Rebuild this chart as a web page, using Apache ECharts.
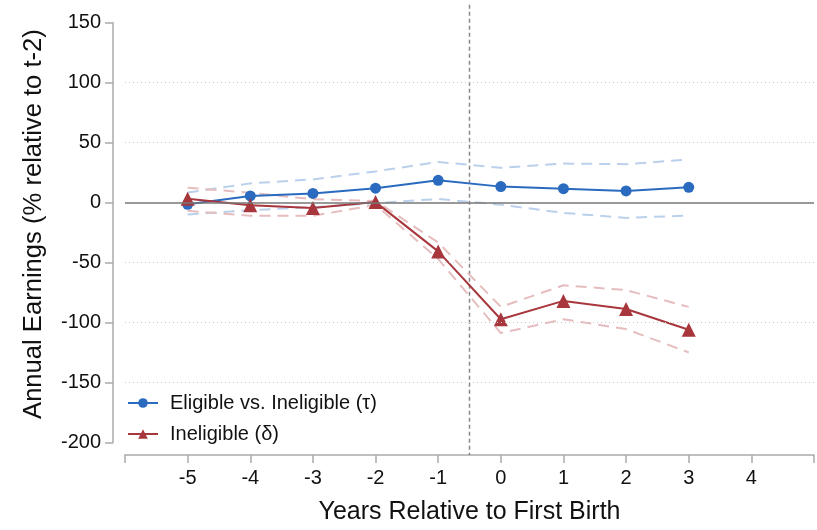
<!DOCTYPE html>
<html>
<head>
<meta charset="utf-8">
<script src="https://cdn.jsdelivr.net/npm/echarts@6/dist/echarts.min.js"></script>
<style>
html,body{margin:0;padding:0;background:#fff;}
#chart{width:817px;height:530px;}
</style>
</head>
<body>
<div id="chart"></div>
<script>
const years = [-5, -4, -3, -2, -1, 0, 1, 2, 3];
const tau = [-1.4, 5.5, 7.6, 12, 18.6, 13.3, 11.6, 9.7, 12.7];
const tauHi = [8.4, 16, 19.3, 26, 33.9, 29, 32.5, 32, 36];
const tauLo = [-10, -6.3, -3.8, -0.5, 3, -1.8, -8.6, -12.8, -10.8];
const delta = [3.1, -2.3, -4.5, 0.4, -40.7, -97.3, -82, -88.7, -106];
const deltaHi = [12.4, 8.2, 2.7, 1.4, -33.3, -87, -69, -73, -87];
const deltaLo = [-6.9, -11, -11, -2, -47, -108.8, -97.3, -105.5, -125];
const yTicks = [150, 100, 50, 0, -50, -100, -150, -200];
const gridLines = [100, 50, -50, -100, -150];
const eventLine = -0.5;
const xLabels = ['-5', '-4', '-3', '-2', '-1', '0', '1', '2', '3', '4'];
const nameTau = 'Eligible vs. Ineligible (\u03C4)';
const nameDelta = 'Ineligible (\u03B4)';

const FONT = '"Liberation Sans Narrow", "Arial Narrow", "Liberation Sans", Arial, sans-serif';
const BLUE = '#2a6bbf', RED = '#a8373d';
const LBLUE = '#bad0eb', LRED = '#e6bdbf';

const pts = arr => years.map((x, i) => [x, arr[i]]);

const chart = echarts.init(document.getElementById('chart'), null, { width: 817, height: 530 });
const option = {
  animation: false,
  backgroundColor: '#fff',
  textStyle: { fontFamily: FONT },
  grid: { left: 125, width: 692, top: 22.7, height: 424, containLabel: false },
  xAxis: {
    type: 'value', min: -6, max: 5, interval: 1, offset: 12.6,
    name: 'Years Relative to First Birth', nameLocation: 'middle', nameGap: 45,
    nameTextStyle: { fontSize: 25, color: '#111', fontFamily: FONT },
    axisLine: { show: true, onZero: false, lineStyle: { color: '#aaa', width: 1.5 } },
    axisTick: { show: true, length: 8, lineStyle: { color: '#aaa', width: 1.5 } },
    axisLabel: { fontSize: 20, color: '#111', margin: 13, fontFamily: FONT,
      formatter: v => xLabels.indexOf(String(v)) >= 0 ? String(v) : '' },
    splitLine: { show: false }
  },
  yAxis: {
    type: 'value', min: -200, max: 150, interval: 50, offset: 12,
    name: 'Annual Earnings (% relative to t-2)', nameLocation: 'middle', nameGap: 66,
    nameTextStyle: { fontSize: 25.6, color: '#111', fontFamily: FONT, padding: [0, 0, 0, 17] },
    axisLine: { show: true, onZero: false, lineStyle: { color: '#aaa', width: 1.5 } },
    axisTick: { show: true, length: 8, lineStyle: { color: '#aaa', width: 1.5 } },
    axisLabel: { fontSize: 20, color: '#111', margin: 12, fontFamily: FONT,
      formatter: v => yTicks.indexOf(v) >= 0 ? String(v) : '' },
    splitLine: { show: false }
  },
  legend: {
    orient: 'vertical', left: 122, top: 388, itemWidth: 30, itemHeight: 12, itemGap: 11,
    data: [nameTau, nameDelta],
    textStyle: { fontSize: 20, color: '#111', fontFamily: FONT, padding: [0, 0, 0, 7] }
  },
  series: [
    { type: 'line', name: 'grid', data: [], silent: true,
      markLine: { silent: true, symbol: 'none', label: { show: false },
        lineStyle: { color: '#c8c8c8', type: [1, 3], width: 1 },
        data: gridLines.map(v => ({ yAxis: v })) } },
    { type: 'line', name: 'zero', data: [], silent: true,
      markLine: { silent: true, symbol: 'none', label: { show: false },
        lineStyle: { color: '#777', type: 'solid', width: 1.5 },
        data: [{ yAxis: 0 }] } },
    { type: 'line', name: 'tauHi', data: pts(tauHi), showSymbol: false, symbol: 'none',
      lineStyle: { color: LBLUE, width: 2, type: [11, 7] } },
    { type: 'line', name: 'tauLo', data: pts(tauLo), showSymbol: false, symbol: 'none',
      lineStyle: { color: LBLUE, width: 2, type: [11, 7] } },
    { type: 'line', name: 'deltaHi', data: pts(deltaHi), showSymbol: false, symbol: 'none',
      lineStyle: { color: LRED, width: 2, type: [11, 7] } },
    { type: 'line', name: 'deltaLo', data: pts(deltaLo), showSymbol: false, symbol: 'none',
      lineStyle: { color: LRED, width: 2, type: [11, 7] } },
    { type: 'line', name: nameTau, data: pts(tau), symbol: 'circle', symbolSize: 11,
      itemStyle: { color: BLUE }, lineStyle: { color: BLUE, width: 2 } },
    { type: 'line', name: nameDelta, data: pts(delta), symbol: 'triangle', symbolSize: 14,
      itemStyle: { color: RED }, lineStyle: { color: RED, width: 2 } }
  ]
};
chart.setOption(option);

// vertical event line at x = -0.5, spanning the plot region incl. margins
const evX = chart.convertToPixel({ gridIndex: 0 }, [eventLine, 0])[0];
const evTop = chart.convertToPixel({ gridIndex: 0 }, [eventLine, 150])[1] - 18;
const evBot = chart.convertToPixel({ gridIndex: 0 }, [eventLine, -200])[1] + 12.6;
chart.setOption({
  graphic: [{
    type: 'line', z: 1,
    shape: { x1: evX, y1: evTop, x2: evX, y2: evBot },
    style: { stroke: '#888', lineWidth: 1.5, lineDash: [4, 3] }
  }]
});
</script>
</body>
</html>
